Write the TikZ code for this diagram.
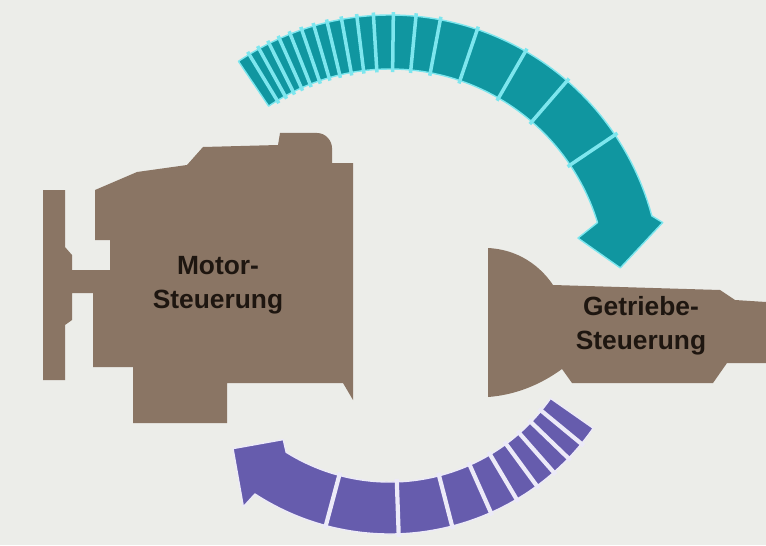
\documentclass[tikz,border=0pt]{standalone}
\usepackage{fontspec}
\setmainfont{Liberation Sans}

\definecolor{bgcol}{HTML}{ECEDE9}
\definecolor{unitbrown}{HTML}{8A7564}
\definecolor{ink}{HTML}{1E1610}
\definecolor{tealarrow}{HTML}{1096A0}
\definecolor{tealhi}{HTML}{7DE6EE}
\definecolor{violarrow}{HTML}{665CAD}
\definecolor{violhi}{HTML}{ECEAF8}

\begin{document}
\begin{tikzpicture}[x=0.02cm, y=0.02cm,
  unit/.style={fill=unitbrown},
  lbl/.style={font=\fontsize{15}{19.5}\selectfont\bfseries, text=ink, align=center, inner sep=0pt},
  tealbody/.style={fill=tealarrow, draw=tealhi, line width=0.8pt, line join=round},
  violbody/.style={fill=violarrow, draw=violhi, line width=0.8pt, line join=round},
  tealcut/.style={draw=tealhi, line width=2pt},
  violcut/.style={draw=violhi, line width=2.4pt}]
% --- background and frame ---
\fill[bgcol] (0,0) rectangle (766,545);
\useasboundingbox (0,0) rectangle (766,545);
% --- engine control unit (left) ---
\fill[unit] (43,355) -- (65,355) -- (65,298) -- (72,290) -- (72,275) -- (110,275)
  -- (110,305) -- (95,305) -- (95,355) -- (137,373) -- (187,380) -- (203,398)
  -- (278,400) -- (280,412) -- (317,412) .. controls (326,412) and (332,404) .. (332,397)
  -- (332,382) -- (353,382) -- (353,145) -- (343,162) -- (227,162) -- (227,122)
  -- (133,122) -- (133,178) -- (93,178) -- (93,252) -- (72,252) -- (72,225)
  -- (65,220) -- (65,165) -- (43,165) -- cycle;
\node[lbl] (motor) at (218,260) {Motor-\\Steuerung};
% --- gearbox control unit (right) ---
\fill[unit] (488,297) .. controls (525,295) and (545,272) .. (553,260)
  -- (720,255) -- (735,245) -- (766,243) -- (766,182) -- (727,182) -- (713,162)
  -- (572,162) -- (562,176) .. controls (540,160) and (515,150) .. (488,148) -- cycle;
\node[lbl] (getriebe) at (641,219) {Getriebe-\\Steuerung};
% --- arrows round the common centre ---
\begin{scope}[shift={(390,259)}]
  % upper arrow: motor -> gearbox
  \path[tealbody] (124:271) arc[start angle=124, end angle=15, radius=271]
    -- (13.1:280) -- (4.5:231) -- (14.3:194) -- (17:217)
    arc[start angle=17, end angle=124, radius=217] -- cycle;
  \foreach \a in {121.3,118.9,116.5,114.1,111.6,109,106.3,103.4,100.3,97,
                  93.5,89.3,84.5,79.3,71.2,60,49.2,33.9}
    \draw[tealcut] (\a:214) -- (\a:274);
  % lower arrow: gearbox -> motor
  \path[violbody] (-35:248) arc[start angle=-35, end angle=-123, radius=248]
    -- (-123.6:265) -- (-134:226) -- (-124.8:187) -- (-122:196)
    arc[start angle=-122, end angle=-35, radius=196] -- cycle;
  \foreach \a in {-39.5,-44,-48.7,-53.7,-59.3,-66,-75.5,-88,-105}
    \draw[violcut] (\a:193) -- (\a:251);
\end{scope}
\end{tikzpicture}
\end{document}
